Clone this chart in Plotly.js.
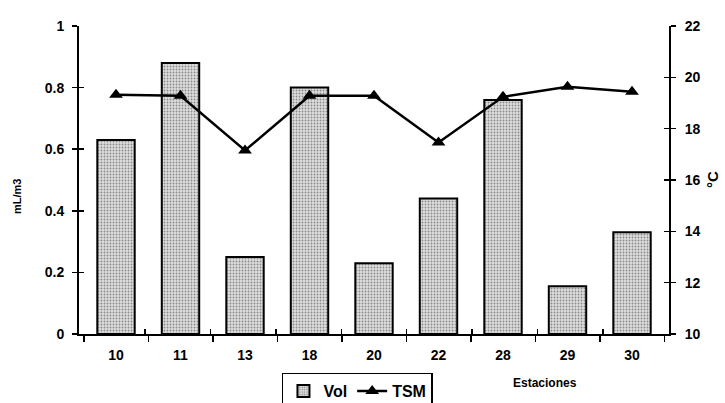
<!DOCTYPE html>
<html>
<head>
<meta charset="utf-8">
<script src="https://cdn.plot.ly/plotly-3.0.1.min.js"></script>
<style>html,body{margin:0;padding:0;background:#fff;}#chart{width:725px;height:403px;}</style>
</head>
<body>
<div id="chart"></div>
<script>
const estaciones = ["10", "11", "13", "18", "20", "22", "28", "29", "30"];
const vol = [0.63, 0.88, 0.25, 0.80, 0.23, 0.44, 0.76, 0.155, 0.33];
const tsm = [19.32, 19.28, 17.15, 19.28, 19.28, 17.46, 19.24, 19.63, 19.44];
const leftTicks = [0, 0.2, 0.4, 0.6, 0.8, 1];
const leftTickText = ["0", "0.2", "0.4", "0.6", "0.8", "1"];
const rightTicks = [10, 12, 14, 16, 18, 20, 22];

const FONT = "Liberation Sans, Arial, Helvetica, sans-serif";
const tickFont = {family: FONT, size: 14, color: "#000", weight: "bold"};

const traces = [
  {
    type: "bar", name: "Vol", x: estaciones, y: vol, xaxis: "x", yaxis: "y",
    marker: {
      color: "#cfcfcf",
      pattern: {shape: ".", bgcolor: "#dedede", fgcolor: "#8a8a8a", size: 3, solidity: 0.3},
      line: {color: "#000", width: 2}
    },
    hoverinfo: "skip"
  },
  {
    type: "scatter", mode: "lines+markers", name: "TSM", x: estaciones, y: tsm,
    xaxis: "x", yaxis: "y2",
    line: {color: "#000", width: 2.5},
    marker: {symbol: "triangle-up", size: 12, color: "#000"},
    hoverinfo: "skip"
  },
  {
    type: "scatter", mode: "markers", x: estaciones, y: vol, xaxis: "x2", yaxis: "y3",
    marker: {opacity: 0}, showlegend: false, hoverinfo: "skip"
  },
  {
    type: "scatter", mode: "markers", x: estaciones, y: tsm, xaxis: "x2", yaxis: "y4",
    marker: {opacity: 0}, showlegend: false, hoverinfo: "skip"
  }
];

const layout = {
  width: 725, height: 403,
  margin: {l: 79, r: 56, t: 26, b: 69, pad: 0, autoexpand: false},
  paper_bgcolor: "#fff", plot_bgcolor: "#fff",
  showlegend: true,
  bargap: 0.42,
  font: {family: FONT, color: "#000"},
  xaxis: {
    type: "category", categoryorder: "array", categoryarray: estaciones,
    showline: true, linecolor: "#000", linewidth: 2, showgrid: false, zeroline: false,
    ticks: "outside", tickson: "boundaries", ticklen: 6, tickwidth: 1.5, tickcolor: "#000",
    tickfont: tickFont, ticklabelstandoff: 7, domain: [0, 1], anchor: "y", automargin: false
  },
  xaxis2: {
    type: "category", categoryorder: "array", categoryarray: estaciones,
    overlaying: "x", anchor: "y3", side: "bottom",
    showline: false, showgrid: false, zeroline: false,
    ticks: "inside", tickson: "boundaries", ticklen: 5, tickwidth: 1.5, tickcolor: "#000",
    showticklabels: false
  },
  yaxis: {
    range: [0, 1], tickvals: leftTicks, ticktext: leftTickText,
    showline: true, linecolor: "#000", linewidth: 2, showgrid: false, zeroline: false,
    ticks: "outside", ticklen: 5, tickwidth: 1.5, tickcolor: "#000",
    tickfont: tickFont, ticklabelstandoff: 5, automargin: false
  },
  yaxis3: {
    range: [0, 1], tickvals: leftTicks, overlaying: "y", side: "left", anchor: "x2",
    showline: false, showgrid: false, zeroline: false,
    ticks: "inside", ticklen: 5, tickwidth: 1.5, tickcolor: "#000", showticklabels: false
  },
  yaxis2: {
    range: [10, 22], tickvals: rightTicks, overlaying: "y", side: "right", anchor: "x",
    showline: true, linecolor: "#000", linewidth: 2, showgrid: false, zeroline: false,
    ticks: "outside", ticklen: 5, tickwidth: 1.5, tickcolor: "#000",
    tickfont: tickFont, ticklabelstandoff: 6, automargin: false
  },
  yaxis4: {
    range: [10, 22], tickvals: rightTicks, overlaying: "y", side: "right", anchor: "x2",
    showline: false, showgrid: false, zeroline: false,
    ticks: "inside", ticklen: 5, tickwidth: 1.5, tickcolor: "#000", showticklabels: false
  },
  legend: {
    orientation: "h", x: 0.344, y: -0.125, xanchor: "left", yanchor: "top",
    bordercolor: "#000", borderwidth: 1.5, bgcolor: "#fff",
    font: {family: FONT, size: 16, color: "#000", weight: "bold"},
    itemwidth: 30, tracegroupgap: 0
  },
  annotations: [
    {text: "Estaciones", xref: "paper", yref: "paper", x: 0.79, y: -0.158,
     showarrow: false, xanchor: "center", yanchor: "middle",
     font: {family: FONT, size: 12, color: "#000", weight: "bold"}},
    {text: "mL/m3", xref: "paper", yref: "paper", x: -0.105, y: 0.445, textangle: -90,
     showarrow: false, xanchor: "center", yanchor: "middle",
     font: {family: FONT, size: 11, color: "#000", weight: "bold"}},
    {text: "°C", xref: "paper", yref: "paper", x: 1.073, y: 0.5, textangle: -90,
     showarrow: false, xanchor: "center", yanchor: "middle",
     font: {family: FONT, size: 15, color: "#000", weight: "bold"}}
  ]
};

Plotly.newPlot("chart", traces, layout, {displayModeBar: false, staticPlot: true});
</script>
</body>
</html>
